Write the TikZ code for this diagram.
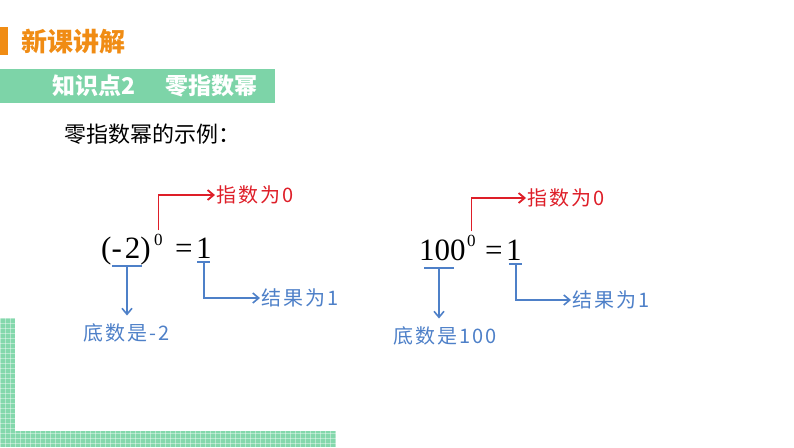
\documentclass[tikz,border=0pt]{standalone}
\usepackage{fontspec}
\setmainfont{Liberation Serif}
\newfontfamily\cjk{Noto Sans CJK SC}
\newfontfamily\cjknote[LetterSpace=10]{Noto Sans CJK SC}
\usetikzlibrary{arrows.meta, positioning}
\definecolor{titleorange}{RGB}{240,140,20}
\definecolor{bandgreen}{RGB}{125,212,168}
\definecolor{gridgreen}{RGB}{132,216,172}
\definecolor{expred}{RGB}{222,30,40}
\definecolor{noteblue}{RGB}{78,128,200}
\tikzset{
  formula/.style={font=\fontsize{31}{31}\selectfont, inner sep=0pt, anchor=base west},
  power/.style={font=\fontsize{17}{17}\selectfont, inner sep=0pt, anchor=base west},
  redlbl/.style={font=\cjknote\fontsize{20}{20}\selectfont, text=expred, inner sep=1pt},
  bluelbl/.style={font=\cjknote\fontsize{20}{20}\selectfont, text=noteblue, inner sep=1pt},
  redarr/.style={-{Straight Barb[length=6pt,width=10pt]}, draw=expred, line width=1.8pt},
  bluearr/.style={-{Straight Barb[length=6pt,width=10pt]}, draw=noteblue, line width=1.6pt},
  uline/.style={draw=noteblue, line width=1.8pt},
  gridline/.style={draw=white, line width=0.5pt, opacity=0.4},
}
\begin{document}
\begin{tikzpicture}[x=1pt, y=-1pt]
  \useasboundingbox (0,0) rectangle (794,447);

  % heading
  \fill[titleorange] (0,27) rectangle (8,55);
  \node[font=\cjk\bfseries\fontsize{26}{26}\selectfont, text=titleorange, anchor=west, inner sep=0pt] (head) at (21,42) {新课讲解};
  \fill[bandgreen] (0,69) rectangle (275,103);
  \node[font=\cjk\bfseries\fontsize{23}{23}\selectfont, text=white, anchor=west, inner sep=0pt] (topic) at (52,86) {知识点2\hspace{30pt}零指数幂};
  \node[font=\cjk\fontsize{22}{22}\selectfont, anchor=west, inner sep=0pt] (intro) at (64,134) {零指数幂的示例：};

  % green grid corner
  \fill[gridgreen] (0,318) rectangle (15,447);
  \fill[gridgreen] (0,431) rectangle (336,447);
  \begin{scope}
    \clip (0,318) rectangle (15,447) (15,431) rectangle (336,447);
    \foreach \gx in {0,5,...,335} \draw[gridline] (\gx,318) -- (\gx,447);
    \foreach \gy in {318,323,...,447} \draw[gridline] (0,\gy) -- (336,\gy);
  \end{scope}

  % first example
  \node[formula] (b1) at (101,258) {(-\kern3pt2)};
  \node[power]   (e1) at (154,245) {0};
  \node[formula] (q1) at (175,258) {=};
  \node[formula] (r1) at (196,258) {1};
  \node[redlbl, anchor=west]  (x1) at (215,195) {指数为0};
  \node[bluelbl]              (d1) at (127,333) {底数是-2};
  \node[bluelbl, anchor=west] (g1) at (260,298) {结果为1};
  \coordinate (u1) at (127,266);
  \coordinate (v1) at (204,262);

  \draw[redarr] ([yshift=3pt]e1.north) |- (x1.west);
  \draw[uline] ([xshift=-15pt]u1) -- ([xshift=15pt]u1);
  \draw[bluearr] (u1) -- ([yshift=7pt]u1 |- d1.north);
  \draw[uline] ([xshift=-7pt]v1) -- ([xshift=6pt]v1);
  \draw[bluearr] (v1) |- (g1.west);

  % second example
  \node[formula] (b2) at (419,260) {100};
  \node[power]   (e2) at (467,246) {0};
  \node[formula] (q2) at (485,260) {=};
  \node[formula] (r2) at (506,260) {1};
  \node[redlbl, anchor=west]  (x2) at (526,198) {指数为0};
  \node[bluelbl]              (d2) at (445,336) {底数是100};
  \node[bluelbl, anchor=west] (g2) at (571,300) {结果为1};
  \coordinate (u2) at (439,268);
  \coordinate (v2) at (516,264);

  \draw[redarr] ([yshift=3pt]e2.north) |- (x2.west);
  \draw[uline] ([xshift=-15pt]u2) -- ([xshift=15pt]u2);
  \draw[bluearr] (u2) -- ([yshift=7pt]u2 |- d2.north);
  \draw[uline] ([xshift=-7pt]v2) -- ([xshift=6pt]v2);
  \draw[bluearr] (v2) |- (g2.west);
\end{tikzpicture}
\end{document}
